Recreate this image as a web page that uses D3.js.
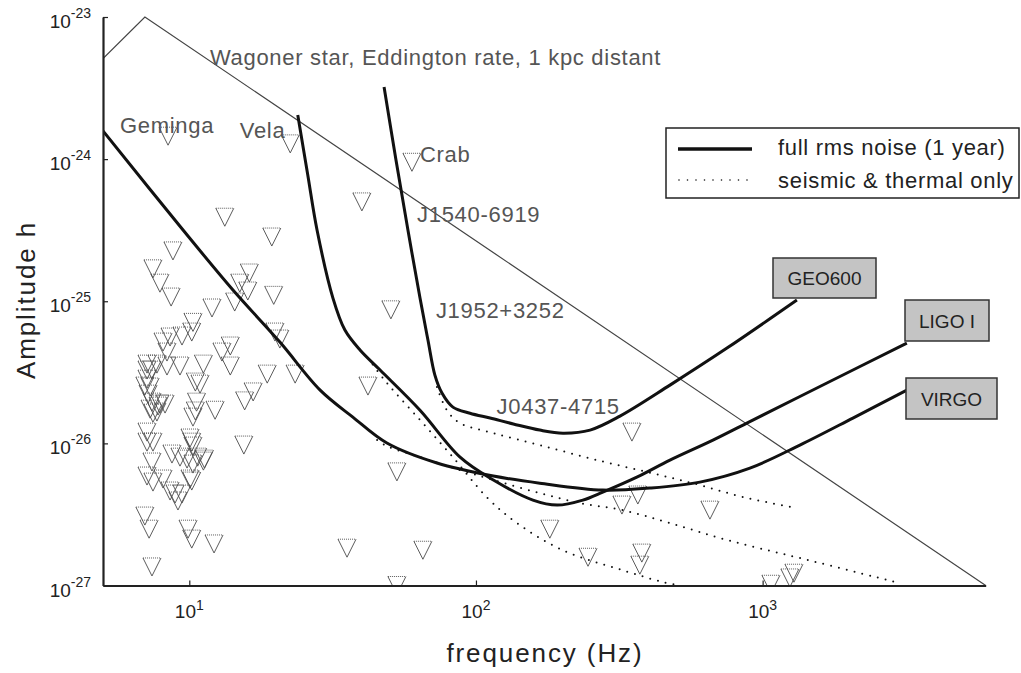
<!DOCTYPE html>
<html><head><meta charset="utf-8">
<script src="https://cdn.jsdelivr.net/npm/d3@7"></script>
<style>
body{margin:0;background:#fff;}
svg{display:block;font-family:"Liberation Sans",Arial,Helvetica,sans-serif;}
</style></head><body>
<svg id="chart" width="1021" height="673"></svg>
<script>
// ---------- DATA ----------
const xTickExp = [1, 2, 3];
const yTickExp = [-27, -26, -25, -24, -23];

// full rms noise curves (1 year)
const geoFreq = [47.8, 52.6, 57.9, 63.8, 68.0, 71.9, 76.1, 83.1, 95.3, 112, 135, 167, 201, 250, 318, 475, 751, 1317];
const geoAmp  = [3.22e-24, 9.86e-25, 3.17e-25, 1.053e-25, 5.33e-26, 3.02e-26, 2.26e-26, 1.80e-26, 1.63e-26, 1.507e-26, 1.37e-26, 1.24e-26, 1.18e-26, 1.24e-26, 1.556e-26, 2.57e-26, 4.68e-26, 1.02e-25];

const ligoFreq = [23.9, 25.9, 27.9, 31.7, 34.9, 39.4, 46.3, 63.8, 88.0, 115, 158, 192, 236, 277, 364, 475, 671, 881, 1676, 3185];
const ligoAmp  = [2.04e-24, 7.73e-25, 3.17e-25, 1.053e-25, 6.27e-26, 4.54e-26, 3.28e-26, 1.71e-26, 8.0e-27, 5.52e-27, 3.99e-27, 3.68e-27, 3.99e-27, 4.54e-27, 5.79e-27, 7.63e-27, 1.055e-26, 1.39e-26, 2.66e-26, 5.08e-26];

const virgoFreq = [5.0, 9.51, 14.2, 20.7, 28.6, 37.2, 48.9, 73.1, 115, 167, 277, 404, 604, 903, 1349, 2065, 3185];
const virgoAmp  = [1.58e-24, 3.17e-25, 1.2e-25, 5.16e-26, 2.37e-26, 1.53e-26, 1.005e-26, 7.27e-27, 5.89e-27, 5.25e-27, 4.69e-27, 4.85e-27, 5.34e-27, 6.70e-27, 9.73e-27, 1.507e-26, 2.37e-26];

// seismic & thermal only
const geoSeisFreq = [73.1, 79.2, 88.0, 115, 167, 264, 438, 604, 853, 1265];
const geoSeisAmp  = [2.49e-26, 1.71e-26, 1.39e-26, 1.18e-26, 9.73e-27, 7.63e-27, 5.98e-27, 5.09e-27, 4.19e-27, 3.56e-27];

const ligoSeisFreq = [42.0, 48.9, 63.8, 83.1, 109, 139, 201, 325, 449, 514];
const ligoSeisAmp  = [3.98e-26, 2.66e-26, 1.46e-26, 8.0e-27, 4.19e-27, 2.75e-27, 1.77e-27, 1.28e-27, 1.057e-27, 1.0e-27];

const virgoSeisFreq = [45.2, 48.9, 63.8, 88.0, 115, 167, 231, 325, 475, 751, 1349, 3012];
const virgoSeisAmp  = [1.055e-26, 9.57e-27, 8.0e-27, 6.49e-27, 5.52e-27, 4.47e-27, 3.80e-27, 3.39e-27, 2.75e-27, 2.09e-27, 1.56e-27, 1.04e-27];

// Wagoner star line
const wagFreq = [5, 7, 6000];
const wagAmp  = [5.1e-24, 1e-23, 1e-27];

// pulsars (upper limits)
const pulsarFreq = [8.43, 22.5, 59.8, 40.0, 13.3, 19.4, 50.5, 42.0, 350, 53.0, 35.5, 65.3, 53.0, 181, 246, 323, 367, 379, 373, 655, 1069, 1245, 1286,
  8.77, 7.47, 7.90, 8.64, 12.0, 16.2, 15.0, 16.0, 14.4, 19.7, 10.3, 10.2, 9.43, 8.57, 8.10, 8.36, 7.71, 7.12, 7.41, 13.9, 13.0, 13.9, 19.9, 20.7,
  11.2, 9.28, 8.36, 18.7, 23.4, 16.7, 15.6, 10.5, 10.9, 10.6, 10.5, 10.3, 12.3, 7.12, 7.12, 7.30, 7.18, 7.0, 7.90, 7.30, 7.71, 8.23, 7.41, 7.78,
  7.47, 7.12, 7.12, 7.47, 10.06, 10.2, 10.3, 15.5, 8.70, 9.28, 9.82, 10.7, 11.3, 10.3, 7.41, 7.12, 7.47, 8.10, 10.06, 8.57, 8.92, 9.13, 7.0,
  7.24, 9.90, 10.2, 12.2, 7.41, 11.2, 10.2, 9.43];
const pulsarAmp = [1.45e-24, 1.28e-24, 9.5e-25, 5.0e-25, 3.9e-25, 2.83e-25, 8.7e-26, 2.53e-26, 1.2e-26, 6.3e-27, 1.83e-27, 1.77e-27, 1.0e-27, 2.49e-27, 1.58e-27, 3.68e-27, 4.33e-27, 1.69e-27, 1.39e-27, 3.39e-27, 1.02e-27, 1.13e-27, 1.22e-27,
  2.26e-25, 1.69e-25, 1.34e-25, 1.07e-25, 8.96e-26, 1.58e-25, 1.34e-25, 1.18e-25, 9.87e-26, 1.1e-25, 7.1e-26, 6.07e-26, 5.69e-26, 5.6e-26, 5.16e-26, 4.39e-26, 3.61e-26, 3.61e-26, 3.28e-26, 4.84e-26, 4.39e-26, 3.5e-26, 6.07e-26, 5.42e-26,
  3.61e-26, 3.5e-26, 3.5e-26, 3.07e-26, 3.07e-26, 2.3e-26, 1.99e-26, 2.7e-26, 2.61e-26, 1.95e-26, 1.69e-26, 1.53e-26, 1.71e-26, 3.28e-26, 2.83e-26, 2.49e-26, 2.22e-26, 2.53e-26, 1.89e-26, 1.74e-26, 1.66e-26, 1.89e-26, 1.95e-26, 1.83e-26,
  1.63e-26, 1.2e-26, 1.02e-26, 1.02e-26, 1.09e-26, 1.02e-26, 9.57e-27, 9.73e-27, 8.41e-27, 8.0e-27, 7.75e-27, 8.0e-27, 7.75e-27, 7.15e-27, 7.39e-27, 5.89e-27, 5.34e-27, 5.61e-27, 5.61e-27, 4.62e-27, 4.4e-27, 3.93e-27, 3.08e-27,
  2.49e-27, 2.49e-27, 2.12e-27, 1.96e-27, 1.35e-27, 7.5e-27, 5.43e-27, 4.4e-27];

// annotation labels (anchored in data coordinates)
const annoText = ["Wagoner star, Eddington rate, 1 kpc distant", "Geminga", "Vela", "Crab", "J1540-6919", "J1952+3252", "J0437-4715"];
const annoFreq = [11.8, 5.73, 15.0, 63.8, 62.3, 72.5, 118];
const annoAmp  = [4.6e-24, 1.53e-24, 1.41e-24, 9.54e-25, 3.61e-25, 7.62e-26, 1.61e-26];

const legendLabels = ["full rms noise (1 year)", "seismic & thermal only"];
const detectorNames = ["GEO600", "LIGO I", "VIRGO"];

// ---------- CHART ----------
const svg = d3.select("#chart");
const x = d3.scaleLog().domain([5, 6000]).range([103, 985.7]);
const y = d3.scaleLog().domain([1e-27, 1e-23]).range([585.5, 17]);

svg.append("defs").append("clipPath").attr("id", "plotclip")
  .append("rect").attr("x", 103).attr("y", 10).attr("width", 885).attr("height", 576);

const plot = svg.append("g").attr("clip-path", "url(#plotclip)");

// pulsar triangles
const tri = plot.append("g").selectAll("g").data(pulsarFreq.map((f, i) => [f, pulsarAmp[i]]))
  .join("g").attr("transform", d => `translate(${x(d[0])},${y(d[1])})`);
tri.append("path").attr("d", "M-9,-9L0,9L9,-9").attr("fill", "none").attr("stroke", "#4a4a4a").attr("stroke-width", 0.9);
tri.append("path").attr("d", "M-9,-9H9").attr("fill", "none").attr("stroke", "#4a4a4a").attr("stroke-width", 0.9).attr("stroke-dasharray", "1,1");

// Wagoner line
const lineLin = d3.line().x(d => x(d[0])).y(d => y(d[1]));
plot.append("path").datum(wagFreq.map((f, i) => [f, wagAmp[i]]))
  .attr("d", lineLin).attr("fill", "none").attr("stroke", "#444").attr("stroke-width", 1.2);

const lineSmooth = d3.line().x(d => x(d[0])).y(d => y(d[1])).curve(d3.curveCatmullRom.alpha(0.5));

// dotted curves
[[geoSeisFreq, geoSeisAmp], [ligoSeisFreq, ligoSeisAmp], [virgoSeisFreq, virgoSeisAmp]].forEach(([F, A]) => {
  plot.append("path").datum(F.map((f, i) => [f, A[i]]))
    .attr("d", lineSmooth).attr("fill", "none").attr("stroke", "#111")
    .attr("stroke-width", 2).attr("stroke-linecap", "round").attr("stroke-dasharray", "0,8");
});

// solid curves
[[geoFreq, geoAmp], [ligoFreq, ligoAmp], [virgoFreq, virgoAmp]].forEach(([F, A]) => {
  plot.append("path").datum(F.map((f, i) => [f, A[i]]))
    .attr("d", lineSmooth).attr("fill", "none").attr("stroke", "#111")
    .attr("stroke-width", 3).attr("stroke-linejoin", "round");
});

// axes
const yAxis = d3.axisLeft(y).tickValues(yTickExp.map(e => Math.pow(10, e)))
  .tickSizeInner(-5).tickSizeOuter(0).tickFormat(() => "");
const xAxis = d3.axisBottom(x).tickValues(xTickExp.map(e => Math.pow(10, e)))
  .tickSizeInner(-5).tickSizeOuter(0).tickFormat(() => "");
const gy = svg.append("g").attr("transform", "translate(103,0)").call(yAxis);
const gx = svg.append("g").attr("transform", "translate(0,585.5)").call(xAxis);
[gy, gx].forEach(g => {
  g.select(".domain").attr("stroke", "#222").attr("stroke-width", 2.2);
  g.selectAll(".tick line").attr("stroke", "#222").attr("stroke-width", 1.2);
});

// tick labels with superscripts
yTickExp.forEach(e => {
  const t = svg.append("text").attr("x", 91).attr("y", y(Math.pow(10, e)) + 11)
    .attr("text-anchor", "end").attr("fill", "#222").style("font-size", "19px");
  t.append("tspan").text("10");
  t.append("tspan").attr("dy", -10).style("font-size", "14px").text(String(e));
});
xTickExp.forEach(e => {
  const t = svg.append("text").attr("x", x(Math.pow(10, e))).attr("y", 618)
    .attr("text-anchor", "middle").attr("fill", "#222").style("font-size", "19px");
  t.append("tspan").text("10");
  t.append("tspan").attr("dy", -8).style("font-size", "14px").text(String(e));
});

// axis titles
svg.append("text").attr("transform", "translate(35,300) rotate(-90)")
  .attr("text-anchor", "middle").attr("fill", "#222")
  .style("font-size", "26px").style("letter-spacing", "1.9px").text("Amplitude h");
svg.append("text").attr("x", 545).attr("y", 662)
  .attr("text-anchor", "middle").attr("fill", "#222")
  .style("font-size", "26px").style("letter-spacing", "1.9px").text("frequency (Hz)");

// annotations
annoText.forEach((s, i) => {
  svg.append("text").attr("x", x(annoFreq[i])).attr("y", y(annoAmp[i]))
    .attr("fill", "#555").style("font-size", "22px").style("letter-spacing", "0.7px").text(s);
});

// legend
const lg = svg.append("g");
lg.append("rect").attr("x", 666).attr("y", 128).attr("width", 353).attr("height", 70)
  .attr("fill", "#fff").attr("stroke", "#222").attr("stroke-width", 1.5);
lg.append("line").attr("x1", 678).attr("x2", 752).attr("y1", 149).attr("y2", 149)
  .attr("stroke", "#111").attr("stroke-width", 3.5);
lg.append("line").attr("x1", 679).attr("x2", 749).attr("y1", 180).attr("y2", 180)
  .attr("stroke", "#111").attr("stroke-width", 1.6).attr("stroke-linecap", "round").attr("stroke-dasharray", "0,8.5");
legendLabels.forEach((s, i) => {
  lg.append("text").attr("x", 778).attr("y", 155 + i * 33).attr("fill", "#222")
    .style("font-size", "22px").style("letter-spacing", "0.7px").text(s);
});

// detector label boxes
const boxes = [[773, 258, 103, 40], [905, 300, 84, 41], [906, 378, 91, 41]];
detectorNames.forEach((s, i) => {
  const [bx, by, bw, bh] = boxes[i];
  svg.append("rect").attr("x", bx).attr("y", by).attr("width", bw).attr("height", bh)
    .attr("fill", "#c4c4c4").attr("stroke", "#333").attr("stroke-width", 1.5);
  svg.append("text").attr("x", bx + bw / 2).attr("y", by + bh / 2 + 7).attr("text-anchor", "middle")
    .attr("fill", "#222").style("font-size", "19px").text(s);
});
</script>
</body></html>
